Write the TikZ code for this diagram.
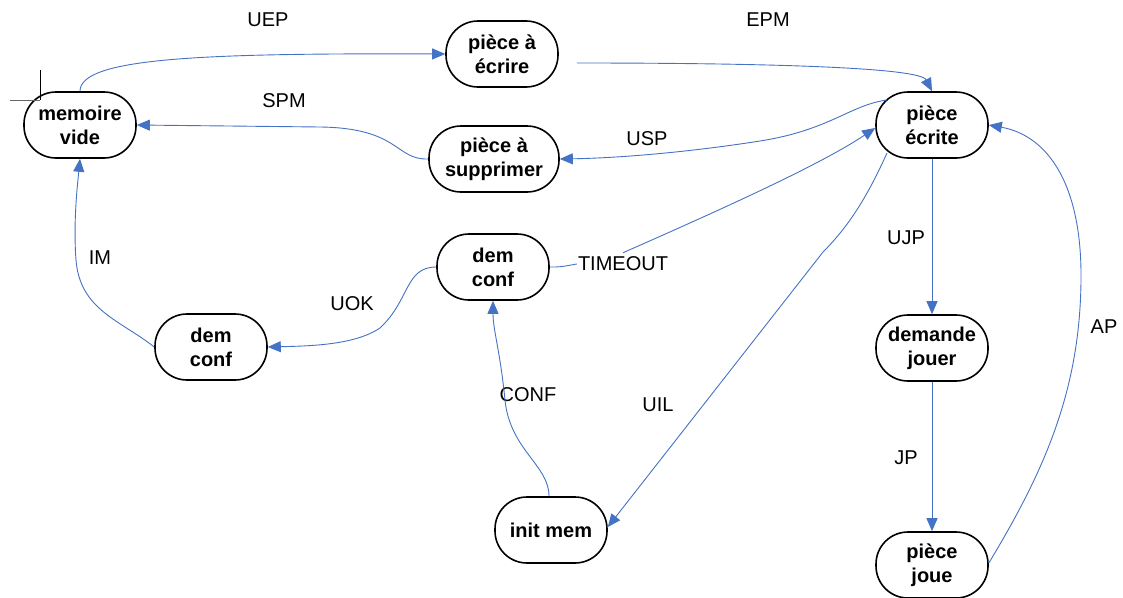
\documentclass[tikz,border=0pt]{standalone}
\usepackage{fontspec}
\setmainfont{Liberation Sans}
\usetikzlibrary{arrows.meta,calc}
\definecolor{edgeblue}{HTML}{4472C4}
\begin{document}
\begin{tikzpicture}[x=1pt,y=-1pt,
  state/.style={draw=black, line width=1.6pt, rounded corners=32pt,
    minimum width=112pt, minimum height=66pt, inner sep=0pt, align=center,
    font=\fontsize{20}{24}\selectfont\bfseries},
  trans/.style={draw=edgeblue, line width=0.9pt,
    -{Triangle[length=13pt,width=11pt]}},
  plain/.style={draw=edgeblue, line width=0.9pt},
  lbl/.style={font=\fontsize{20}{24}\selectfont, inner sep=1pt}]
\useasboundingbox (0,0) rectangle (1123,597);

% states
\node[state] (mv) at (80,125) {memoire\\vide};
\node[state] (pae) at (502,54) {pièce à\\écrire};
\node[state, minimum width=130pt] (pas) at (494,159) {pièce à\\supprimer};
\node[state] (ecrite) at (932,125) {pièce\\écrite};
\node[state] (dc1) at (493,267) {dem\\conf};
\node[state] (dc2) at (211,347) {dem\\conf};
\node[state] (dj) at (932,348) {demande\\jouer};
\node[state] (im) at (551,530) {init mem};
\node[state] (pj) at (932,565) {pièce\\joue};

% transition labels
\node[lbl] (uep) at (268,20) {UEP};
\node[lbl] (epm) at (768,20) {EPM};
\node[lbl] (spm) at (284,101) {SPM};
\node[lbl] (usp) at (647,139) {USP};
\node[lbl] (tmo) at (623,264) {TIMEOUT};
\node[lbl] (uok) at (352,304) {UOK};
\node[lbl] (lim) at (100,258) {IM};
\node[lbl] (conf) at (528,395) {CONF};
\node[lbl] (uil) at (658,405) {UIL};
\node[lbl] (ujp) at (906,238) {UJP};
\node[lbl] (jp) at (906,458) {JP};
\node[lbl] (ap) at (1104,327) {AP};

% transitions
\draw[trans] (mv.north) .. controls (80,58) and (200,53) .. (pae.west);
\draw[trans] ([shift={(18,9)}]pae.east) .. controls (780,63) and (920,68) .. (ecrite.north);
\draw[trans] (pas.west) .. controls (395,160) and (400,128) .. (320,127) -- (mv.east);
\draw[trans] ([shift={(-45,-25)}]ecrite.center) .. controls (850,105) and (830,130) .. (760,141)
  .. controls (690,152) and (620,158) .. (pas.east);
\draw[plain] (dc1.east) .. controls (560,267) .. (tmo.west);
\draw[trans] ([yshift=3pt]tmo.north) .. controls (720,210) and (820,165) .. ([yshift=-3pt]ecrite.west);
\draw[trans] ([shift={(-45,28)}]ecrite.center) .. controls (868,195) and (850,225) .. (823,252)
  -- ([yshift=3pt]im.east);
\draw[trans] ([xshift=-2pt]im.north) .. controls (549,465) and (510,450) .. (505,400)
  .. controls (500,350) and (493,330) .. (dc1.south);
\draw[trans] (dc1.west) .. controls (405,267) and (410,300) .. (380,328)
  .. controls (355,345) and (310,346) .. (dc2.east);
\draw[trans] (dc2.west) .. controls (120,320) and (80,310) .. (76,260)
  .. controls (73,220) and (78,180) .. (mv.south);
\draw[trans] (ecrite.south) -- (dj.north);
\draw[trans] (dj.south) -- (pj.north);
\draw[trans] ([yshift=2pt]pj.east) .. controls (1045,470) and (1080,390) .. (1081,280)
  .. controls (1082,180) and (1045,135) .. (ecrite.east);

% corner marks
\draw[black, line width=0.8pt] (40,70) -- (40,100);
\draw[black!60, line width=0.8pt] (10,100) -- (40,100);
\end{tikzpicture}
\end{document}
